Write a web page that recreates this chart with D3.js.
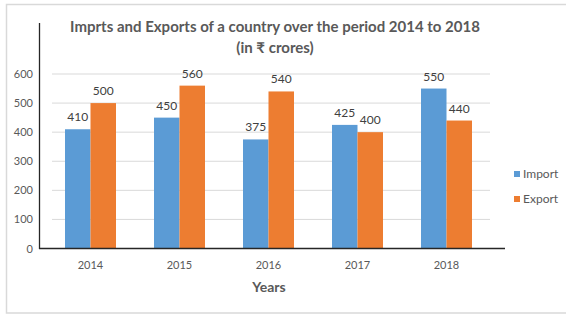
<!DOCTYPE html>
<html>
<head>
<meta charset="utf-8">
<script src="https://cdn.jsdelivr.net/npm/d3@7"></script>
<style>
  body { margin: 0; background: #fff; }
  text { font-family: Lato, "Open Sans", sans-serif; }
</style>
</head>
<body>
<svg id="chart" width="566" height="315"></svg>
<script>
var years = ["2014", "2015", "2016", "2017", "2018"];
var imports = [410, 450, 375, 425, 550];
var exports = [500, 560, 540, 400, 440];
var seriesNames = ["Import", "Export"];
var yTicks = [0, 100, 200, 300, 400, 500, 600];

var colors = { Import: "#5B9BD5", Export: "#ED7D31" };

var svg = d3.select("#chart");

// light frame round the whole chart
svg.append("rect")
    .attr("x", 6.5).attr("y", 4.5)
    .attr("width", 566).attr("height", 308.5)
    .attr("fill", "none")
    .attr("stroke", "#d9d9d9")
    .attr("stroke-width", 1.5);

var x = d3.scaleBand()
    .domain(years)
    .range([46, 491])
    .paddingInner(0.427)
    .paddingOuter(0.2135);

var xInner = d3.scaleBand()
    .domain(seriesNames)
    .range([0, x.bandwidth()]);

var y = d3.scaleLinear()
    .domain([0, 600])
    .range([248.5, 74]);

// gridlines
svg.append("g")
    .selectAll("line")
    .data(yTicks.slice(1))
    .enter().append("line")
    .attr("x1", 52).attr("x2", 490)
    .attr("y1", function (d) { return y(d); })
    .attr("y2", function (d) { return y(d); })
    .attr("stroke", "#d9d9d9");

// y tick labels
svg.append("g")
    .selectAll("text")
    .data(yTicks)
    .enter().append("text")
    .attr("x", 33)
    .attr("y", function (d) { return y(d) + 4; })
    .attr("text-anchor", "end")
    .attr("font-size", 11)
    .attr("fill", "#595959")
    .text(function (d) { return d; });

var rows = years.map(function (yr, i) {
    return { year: yr, Import: imports[i], Export: exports[i] };
});

var groups = svg.append("g")
    .selectAll("g")
    .data(rows)
    .enter().append("g")
    .attr("transform", function (d) { return "translate(" + x(d.year) + ",0)"; });

groups.selectAll("rect")
    .data(function (d) { return seriesNames.map(function (s) { return { key: s, value: d[s] }; }); })
    .enter().append("rect")
    .attr("x", function (d) { return xInner(d.key); })
    .attr("y", function (d) { return y(d.value); })
    .attr("width", xInner.bandwidth())
    .attr("height", function (d) { return y(0) - y(d.value); })
    .attr("fill", function (d) { return colors[d.key]; });

groups.selectAll("text")
    .data(function (d) { return seriesNames.map(function (s) { return { key: s, value: d[s] }; }); })
    .enter().append("text")
    .attr("x", function (d) { return xInner(d.key) + xInner.bandwidth() / 2; })
    .attr("y", function (d) { return y(d.value) - 8; })
    .attr("text-anchor", "middle")
    .attr("font-size", 12)
    .attr("fill", "#404040")
    .text(function (d) { return d.value; });

// axes lines
svg.append("line")
    .attr("x1", 39.5).attr("x2", 39.5)
    .attr("y1", 23).attr("y2", 249)
    .attr("stroke", "#262626").attr("stroke-width", 1.3);
svg.append("line")
    .attr("x1", 39).attr("x2", 505)
    .attr("y1", 248.5).attr("y2", 248.5)
    .attr("stroke", "#262626").attr("stroke-width", 1.3);

// x labels
svg.append("g")
    .selectAll("text")
    .data(years)
    .enter().append("text")
    .attr("x", function (d) { return x(d) + x.bandwidth() / 2; })
    .attr("y", 269)
    .attr("text-anchor", "middle")
    .attr("font-size", 11)
    .attr("fill", "#595959")
    .text(function (d) { return d; });

svg.append("text")
    .attr("x", 269).attr("y", 292)
    .attr("text-anchor", "middle")
    .attr("font-size", 14)
    .attr("font-weight", "bold")
    .attr("fill", "#595959")
    .text("Years");

// title
svg.append("text")
    .attr("x", 275).attr("y", 32)
    .attr("text-anchor", "middle")
    .attr("font-size", 15)
    .attr("font-weight", "bold")
    .attr("fill", "#595959")
    .text("Imprts and Exports of a country over the period 2014 to 2018");
svg.append("text")
    .attr("x", 275).attr("y", 53)
    .attr("text-anchor", "middle")
    .attr("font-size", 15)
    .attr("font-weight", "bold")
    .attr("fill", "#595959")
    .text("(in \u20B9 crores)");

// legend
var legend = svg.append("g")
    .selectAll("g")
    .data(seriesNames)
    .enter().append("g")
    .attr("transform", function (d, i) { return "translate(514," + (174 + i * 25) + ")"; });
legend.append("rect")
    .attr("x", 0).attr("y", -3)
    .attr("width", 6).attr("height", 6)
    .attr("fill", function (d) { return colors[d]; });
legend.append("text")
    .attr("x", 9).attr("y", 4)
    .attr("font-size", 12)
    .attr("fill", "#595959")
    .text(function (d) { return d; });
</script>
</body>
</html>
